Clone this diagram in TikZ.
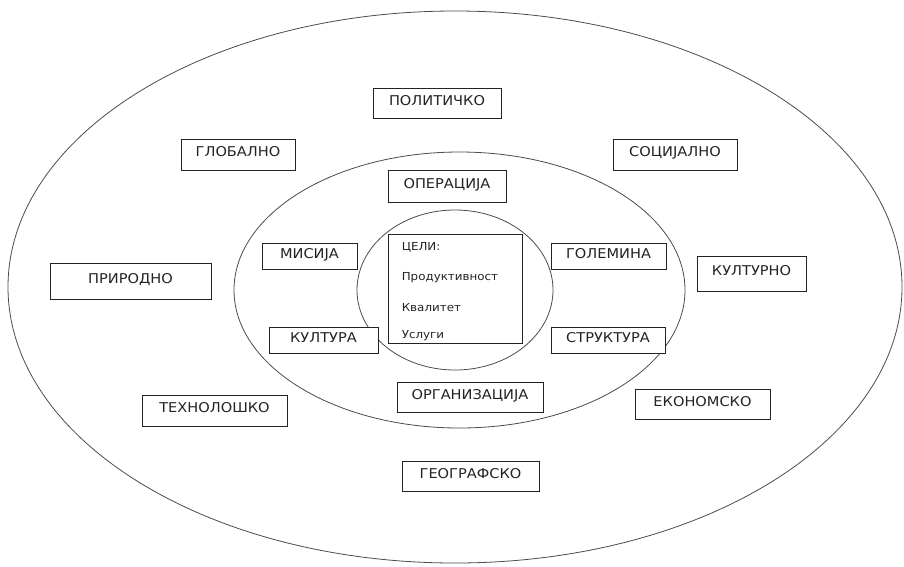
\documentclass[tikz,border=0pt]{standalone}
\usepackage{fontspec}
\setmainfont{DejaVu Sans}[FakeStretch=1.08]
\usetikzlibrary{positioning}
\definecolor{ink}{RGB}{35,35,35}
\definecolor{rim}{RGB}{75,75,75}
\tikzset{
  factor/.style={draw=ink,fill=white,line width=0.8pt,inner sep=0pt,text=ink,
    font=\fontsize{13.5}{16}\selectfont,text height=10pt,text depth=6pt},
  goalbox/.style={draw=ink,fill=white,line width=0.8pt,inner sep=0pt},
  goal/.style={anchor=base west,inner sep=0pt,text=ink,font=\fontsize{11}{13}\selectfont},
  ring/.style={draw=rim,line width=0.8pt},
}

\begin{document}
\begin{tikzpicture}[x=1pt,y=-1pt]
    \useasboundingbox (0,0) rectangle (904,566);
    \draw[ring] (455,287) ellipse [x radius=447,y radius=276];
    \draw[ring] (459.5,290) ellipse [x radius=225.5,y radius=138];
    \draw[ring] (455,290) ellipse [x radius=98,y radius=80];
    \foreach \n/\x/\y/\w/\h/\t in {
      polit/437/103/128/30/ПОЛИТИЧКО,
      glob/238/154.5/114/31/ГЛОБАЛНО,
      soc/675/154.5/124/31/СОЦИЈАЛНО,
      oper/447/186/118/32/ОПЕРАЦИЈА,
      mis/309.5/256/95/26/МИСИЈА,
      golem/608.5/256/115/26/ГОЛЕМИНА,
      prir/130.5/281/161/36/ПРИРОДНО,
      kultno/751.5/273.5/109/35/КУЛТУРНО,
      kultra/323.5/340/109/26/КУЛТУРА,
      strukt/608/340/114/26/СТРУКТУРА,
      org/470/397/146/30/ОРГАНИЗАЦИЈА,
      tehn/214.5/410.5/145/31/ТЕХНОЛОШКО,
      ekon/702.5/404/135/30/ЕКОНОМСКО,
      geo/470.5/476/137/30/ГЕОГРАФСКО}
    {
      \node[factor,minimum width=\w pt,minimum height=\h pt] (\n) at (\x,\y) {\t};
    }
    \node[goalbox,minimum width=134pt,minimum height=109pt] (goals) at (455,288.5) {};
    \foreach \t/\d [count=\i] in {ЦЕЛИ:/17,Продуктивност/47,Квалитет/78,Услуги/105}
    {
      \node[goal] (g\i) at ([xshift=14pt,yshift=-\d pt]goals.north west) {\t};
    }
  \end{tikzpicture}
\end{document}
